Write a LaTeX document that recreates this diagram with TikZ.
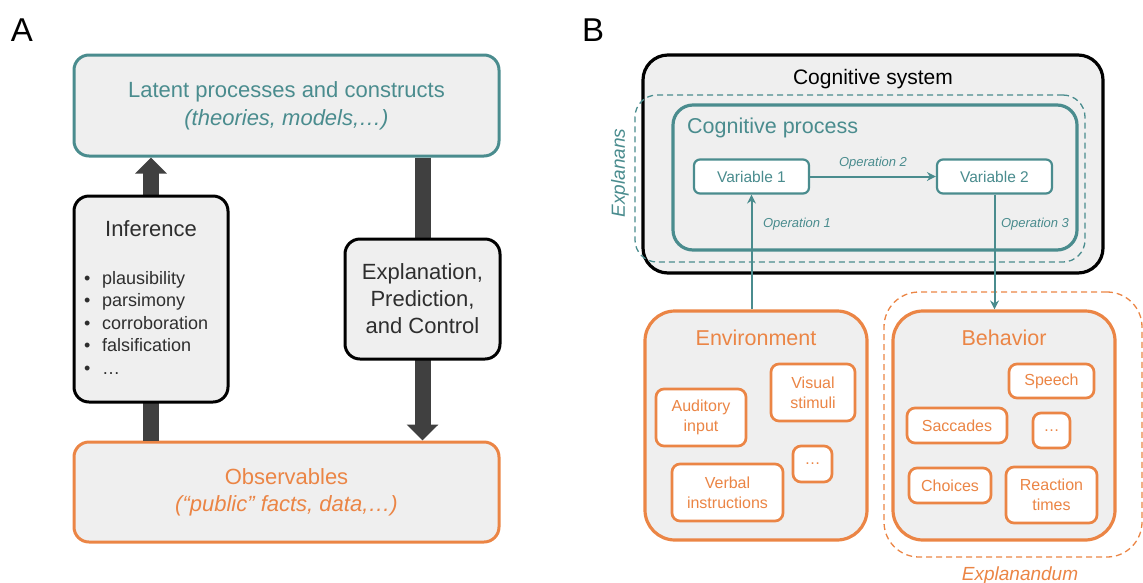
\documentclass[tikz,border=0pt]{standalone}
\usepackage{fontspec}
\setmainfont{Liberation Sans}
\usetikzlibrary{arrows.meta}

\definecolor{tealc}{HTML}{4A8C8E}
\definecolor{orangec}{HTML}{EB8545}
\definecolor{fillg}{HTML}{EFEFEF}
\definecolor{arrowg}{HTML}{404040}
\definecolor{inkc}{HTML}{2E2E2E}

\newcommand{\fs}[2]{\fontsize{#1}{#2}\selectfont}

\tikzset{
  panellabel/.style={font=\fs{33}{36}, anchor=base},
  bigbox/.style={draw, fill=fillg, line width=3pt, rounded corners=15pt, inner sep=0pt, align=center},
  heavyarrow/.style={line width=16pt, color=arrowg, -{Triangle[width=31pt,length=16pt]}},
  groupbox/.style={draw, fill=fillg, line width=3.2pt, inner sep=0pt},
  varbox/.style={draw=tealc, fill=white, line width=2.2pt, rounded corners=6pt, inner sep=0pt,
                 text=tealc, font=\fs{15.5}{18}},
  itembox/.style={draw=orangec, fill=white, line width=2.7pt, rounded corners=8pt, inner sep=0pt,
                  text=orangec, font=\fs{16}{20}, align=center},
  dashedbox/.style={line width=1.3pt, dash pattern=on 6pt off 4pt, rounded corners=22pt, inner sep=0pt},
  oplabel/.style={text=tealc, font=\fs{13}{15}\itshape},
  linkarrow/.style={draw=tealc, line width=2pt, -{Stealth[length=9pt,width=9pt,inset=3pt]}},
}

\begin{document}
\begin{tikzpicture}[x=1pt,y=-1pt]
\useasboundingbox (0,0) rectangle (1143,582);

% ---------------- Panel A ----------------
\node[panellabel] (labA) at (22,41) {A};

\coordinate (infc) at (151,299);
\coordinate (expc) at (422.5,299);

\node[bigbox, draw=tealc, text=tealc, minimum width=425pt, minimum height=101pt,
      font=\fs{22}{28}] (latent) at (286.5,105.5)
  {Latent processes and constructs\\{\itshape (theories, models,…)}};
\node[bigbox, draw=orangec, text=orangec, minimum width=425pt, minimum height=100pt,
      font=\fs{22}{27}] (obs) at (286.5,492)
  {Observables\\{\itshape (“public” facts, data,…)}};

% thick arrows run behind the two side boxes
\draw[heavyarrow] (obs.north -| infc) -- (latent.south -| infc);
\draw[heavyarrow] (latent.south -| expc) -- (obs.north -| expc);

\node[bigbox, draw=black, minimum width=154pt, minimum height=206pt] (inf) at (infc) {};
\node[font=\fs{22}{26}, text=inkc, anchor=base] (inftitle) at (151,236) {Inference};
\node[anchor=north west, inner sep=0pt, align=left, font=\fs{18}{22.5}, text=inkc]
  (inflist) at (84,271)
  {\makebox[18pt][l]{•}plausibility\\
   \makebox[18pt][l]{•}parsimony\\
   \makebox[18pt][l]{•}corroboration\\
   \makebox[18pt][l]{•}falsification\\
   \makebox[18pt][l]{•}…};

\node[bigbox, draw=black, text=inkc, minimum width=155pt, minimum height=120pt,
      font=\fs{22}{27}] (expl) at (expc)
  {Explanation,\\Prediction,\\and Control};

% ---------------- Panel B ----------------
\node[panellabel] (labB) at (593,41) {B};

\node[groupbox, draw=black, rounded corners=25pt, minimum width=460pt, minimum height=218pt]
  (csys) at (873,164) {};
\node[font=\fs{21}{24}, anchor=base] (csystitle) at (873,84) {Cognitive system};

\node[dashedbox, draw=tealc, minimum width=450pt, minimum height=167pt] (explanans) at (860,178.5) {};
\node[rotate=90, text=tealc, font=\fs{19}{22}\itshape] (explanansl) at (620,173) {Explanans};

\node[draw=tealc, line width=3.2pt, rounded corners=20pt, inner sep=0pt,
      minimum width=404pt, minimum height=145pt] (cproc) at (875,177.5) {};
\node[text=tealc, font=\fs{21.5}{24}, anchor=base west, inner sep=0pt] (cproctitle) at (687,133) {Cognitive process};

\node[varbox, minimum width=115pt, minimum height=34pt] (v1) at (751.5,176.5) {Variable 1};
\node[varbox, minimum width=115pt, minimum height=34pt] (v2) at (994.5,176.5) {Variable 2};

\node[groupbox, draw=orangec, rounded corners=30pt, minimum width=222pt, minimum height=229pt]
  (env) at (756,425.5) {};
\node[text=orangec, font=\fs{21.5}{24}, anchor=base] (envtitle) at (756,345) {Environment};

\node[dashedbox, draw=orangec, rounded corners=35pt, minimum width=258pt, minimum height=265pt]
  (explanandum) at (1013,424.5) {};
\node[text=orangec, font=\fs{19}{22}\itshape, anchor=base] (explanandl) at (1020,580) {Explanandum};

\node[groupbox, draw=orangec, rounded corners=30pt, minimum width=222pt, minimum height=229pt]
  (beh) at (1004,425.5) {};
\node[text=orangec, font=\fs{21.5}{24}, anchor=base] (behtitle) at (1004,345) {Behavior};

% operations between variables and the world
\draw[linkarrow] (v1.east) -- node[oplabel, above=3pt] (op2) {Operation 2} (v2.west);
\draw[linkarrow] (env.north -| v1.south) -- (v1.south);
\draw[linkarrow] (v2.south) -- (v2.south |- beh.north);
\node[oplabel] (op1) at (797,224) {Operation 1};
\node[oplabel] (op3) at (1035,224) {Operation 3};

% environment items
\node[itembox, minimum width=90pt, minimum height=57pt] (aud) at (701,417.5) {Auditory\\input};
\node[itembox, minimum width=84pt, minimum height=57pt] (vis) at (813,392.5) {Visual\\stimuli};
\node[itembox, minimum width=111pt, minimum height=57pt] (verb) at (727.5,492.5) {Verbal\\instructions};
\node[itembox, minimum width=39pt, minimum height=36pt] (envdots) at (812.5,464) {…};

% behavior items
\node[itembox, minimum width=85pt, minimum height=34pt] (speech) at (1051.5,381) {Speech};
\node[itembox, minimum width=100pt, minimum height=35pt] (sacc) at (957,425.5) {Saccades};
\node[itembox, minimum width=37pt, minimum height=35pt] (behdots) at (1051.5,430.5) {…};
\node[itembox, minimum width=82pt, minimum height=35pt] (choice) at (950,485.5) {Choices};
\node[itembox, minimum width=91pt, minimum height=56pt] (rt) at (1051.5,495) {Reaction\\times};
\end{tikzpicture}
\end{document}
